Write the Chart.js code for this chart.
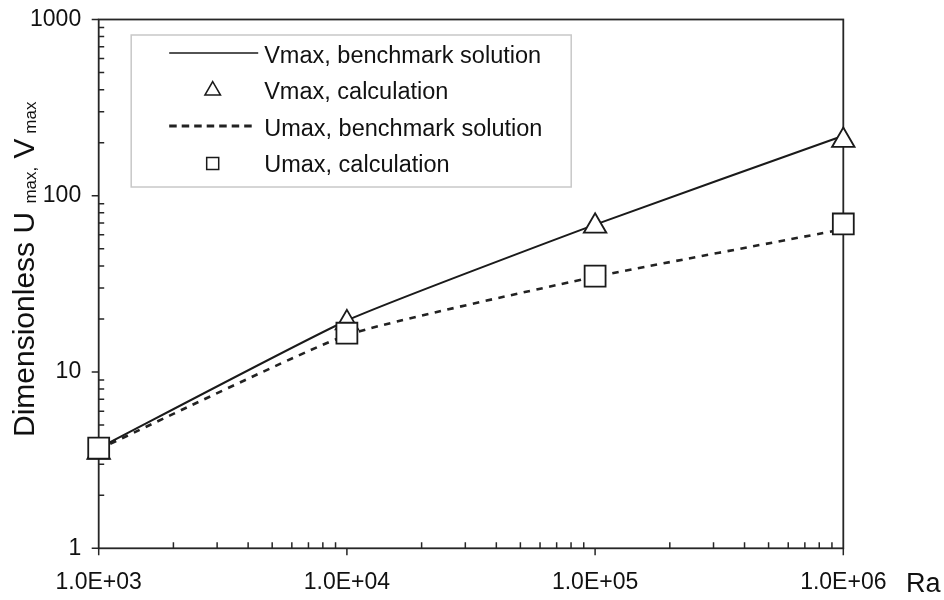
<!DOCTYPE html>
<html>
<head>
<meta charset="utf-8">
<script src="https://cdn.jsdelivr.net/npm/chart.js@4.4.1/dist/chart.umd.min.js"></script>
<style>
  html, body { margin: 0; padding: 0; background: #fff; }
  #wrap { position: relative; width: 944px; height: 600px; }
</style>
</head>
<body>
<div id="wrap"><canvas id="umaxChart"></canvas></div>
<script>
// Datos
const raValues = [1e3, 1e4, 1e5, 1e6];
const vmaxBenchmark = [3.70, 19.6, 68.6, 219];
const vmaxCalc = [3.5, 19.0, 67.2, 206];
const umaxBenchmark = [3.65, 16.2, 34.7, 64.6];
const umaxCalc = [3.70, 16.6, 35.0, 69.2];

const xTicks = [1e3, 1e4, 1e5, 1e6];
const xTickLabels = ['1.0E+03', '1.0E+04', '1.0E+05', '1.0E+06'];
const yTicks = [1, 10, 100, 1000];
const yTickLabels = ['1', '10', '100', '1000'];

const seriesLabels = ['Vmax, benchmark solution', 'Vmax, calculation', 'Umax, benchmark solution', 'Umax, calculation'];
const xTitle = 'Ra';
const yTitleParts = [
  {text: 'Dimensionless U'},
  {text: ' '},
  {text: 'max,', sub: true},
  {text: ' V'},
  {text: ' max', sub: true}
];

const FONT = '"Liberation Sans", Arial, sans-serif';
const INK = '#1a1a1a';

// decade ticks plus the 2..9 minor ones
function withMinors(majors) {
  const out = [];
  majors.forEach((m, i) => {
    out.push(m);
    if (i < majors.length - 1) {
      for (let k = 2; k < 10; k++) out.push(m * k);
    }
  });
  return out;
}

function pts(ys) {
  return raValues.map((x, i) => ({x: x, y: ys[i]}));
}

// box + tick marks (major outside, minor inside)
const framePlugin = {
  id: 'frame',
  beforeDatasetsDraw(chart) {
    const {ctx, chartArea: a, scales} = chart;
    ctx.save();
    ctx.strokeStyle = '#262626';
    ctx.lineWidth = 1.8;
    ctx.strokeRect(a.left, a.top, a.right - a.left, a.bottom - a.top);
    ctx.lineWidth = 1.5;
    ctx.beginPath();
    scales.x.ticks.forEach(t => {
      const px = scales.x.getPixelForValue(t.value);
      ctx.moveTo(px, a.bottom);
      ctx.lineTo(px, xTicks.includes(t.value) ? a.bottom + 7 : a.bottom - 6);
    });
    scales.y.ticks.forEach(t => {
      const py = scales.y.getPixelForValue(t.value);
      ctx.moveTo(a.left, py);
      ctx.lineTo(yTicks.includes(t.value) ? a.left - 7 : a.left + 5.5, py);
    });
    ctx.stroke();
    ctx.restore();
  }
};

// leyenda en caja dentro del área
const boxLegend = {
  id: 'boxLegend',
  afterDraw(chart) {
    const {ctx, chartArea: a} = chart;
    const left = a.left + 32.5, top = a.top + 15.5, w = 440, h = 152;
    ctx.save();
    ctx.fillStyle = '#fff';
    ctx.fillRect(left, top, w, h);
    ctx.strokeStyle = '#c8c8c8';
    ctx.lineWidth = 1.5;
    ctx.strokeRect(left, top, w, h);

    seriesLabels.forEach((label, i) => {
      const ds = chart.data.datasets.find(d => d.label === label);
      const cy = top + 18 + i * 36.5;
      const sx = left + 38, ex = left + 127, mx = left + 81.5;
      ctx.save();
      if (ds.showLine === false) {
        ctx.strokeStyle = ds.pointBorderColor;
        ctx.fillStyle = ds.pointBackgroundColor;
        Chart.helpers.drawPoint(ctx, {
          pointStyle: ds.pointStyle,
          radius: ds.pointStyle === 'triangle' ? 9 : 8.5,
          rotation: 0,
          borderWidth: 1.8
        }, mx, cy + 1);
      } else {
        ctx.strokeStyle = ds.borderColor;
        ctx.lineWidth = ds.borderDash ? 3 : 1.6;
        ctx.setLineDash(ds.borderDash ? [7.5, 5] : []);
        ctx.beginPath();
        ctx.moveTo(sx, cy);
        ctx.lineTo(ds.borderDash ? ex - 4 : ex, cy);
        ctx.stroke();
      }
      ctx.restore();
      ctx.fillStyle = '#111';
      ctx.font = '23.5px ' + FONT;
      ctx.textBaseline = 'alphabetic';
      ctx.textAlign = 'left';
      ctx.fillText(label, left + 133, cy + 9.5);
    });
    ctx.restore();
  }
};

// títulos de ejes con subíndices
const axisTitles = {
  id: 'axisTitles',
  afterDraw(chart) {
    const ctx = chart.ctx;
    ctx.save();
    ctx.fillStyle = '#111';
    ctx.textAlign = 'left';
    ctx.textBaseline = 'alphabetic';
    ctx.font = '27px ' + FONT;
    ctx.fillText(xTitle, 906, 592);

    ctx.translate(34, 437);
    ctx.rotate(-Math.PI / 2);
    let pos = 0;
    yTitleParts.forEach(p => {
      ctx.font = (p.sub ? '17px ' : '30px ') + FONT;
      ctx.fillText(p.text, pos, p.sub ? 2 : 0);
      pos += ctx.measureText(p.text).width;
    });
    ctx.restore();
  }
};

document.addEventListener('DOMContentLoaded', function() {
  const ctx = document.getElementById('umaxChart').getContext('2d');
  Chart.defaults.font.family = FONT;

  new Chart(ctx, {
    type: 'line',
    data: {
      datasets: [
        {
          label: seriesLabels[3],
          data: pts(umaxCalc),
          showLine: false,
          pointStyle: 'rect',
          pointRadius: 14.8,
          pointHoverRadius: 14.8,
          pointBorderWidth: 1.8,
          pointBorderColor: INK,
          pointBackgroundColor: '#fff',
          borderColor: INK,
          order: 0,
          clip: false
        },
        {
          label: seriesLabels[1],
          data: pts(vmaxCalc),
          showLine: false,
          pointStyle: 'triangle',
          pointRadius: 13,
          pointHoverRadius: 13,
          pointBorderWidth: 1.8,
          pointBorderColor: INK,
          pointBackgroundColor: '#fff',
          borderColor: INK,
          order: 1,
          clip: false
        },
        {
          label: seriesLabels[0],
          data: pts(vmaxBenchmark),
          borderColor: INK,
          borderWidth: 2,
          pointRadius: 0,
          tension: 0.15,
          fill: false,
          order: 2,
          clip: false
        },
        {
          label: seriesLabels[2],
          data: pts(umaxBenchmark),
          borderColor: '#222',
          borderWidth: 2.6,
          borderDash: [6.5, 6.5],
          pointRadius: 0,
          tension: 0.15,
          fill: false,
          order: 3,
          clip: false
        }
      ]
    },
    options: {
      responsive: true,
      maintainAspectRatio: false,
      animation: false,
      events: [],
      layout: {
        padding: {left: 0, top: 19.5, right: 100.7, bottom: 0}
      },
      plugins: {
        legend: {display: false},
        tooltip: {enabled: false}
      },
      scales: {
        x: {
          type: 'logarithmic',
          min: 1e3,
          max: 1e6,
          afterBuildTicks: s => { s.ticks = withMinors(xTicks).map(v => ({value: v})); },
          afterFit: s => { s.height = 51.7; s.paddingLeft = 0; s.paddingRight = 0; },
          grid: {display: false, drawTicks: false},
          border: {display: false},
          ticks: {
            autoSkip: false,
            maxRotation: 0,
            padding: 21,
            color: '#111',
            font: {size: 23},
            callback: function(value) {
              const i = xTicks.indexOf(value);
              return i >= 0 ? xTickLabels[i] : '';
            }
          }
        },
        y: {
          type: 'logarithmic',
          min: 1,
          max: 1000,
          afterBuildTicks: s => { s.ticks = withMinors(yTicks).map(v => ({value: v})); },
          afterFit: s => { s.width = 98.7; s.paddingTop = 0; s.paddingBottom = 0; },
          grid: {display: false, drawTicks: false},
          border: {display: false},
          ticks: {
            autoSkip: false,
            padding: 17.5,
            color: '#111',
            font: {size: 23},
            callback: function(value) {
              const i = yTicks.indexOf(value);
              return i >= 0 ? yTickLabels[i] : '';
            }
          }
        }
      }
    },
    plugins: [framePlugin, boxLegend, axisTitles]
  });
});
</script>
</body>
</html>
